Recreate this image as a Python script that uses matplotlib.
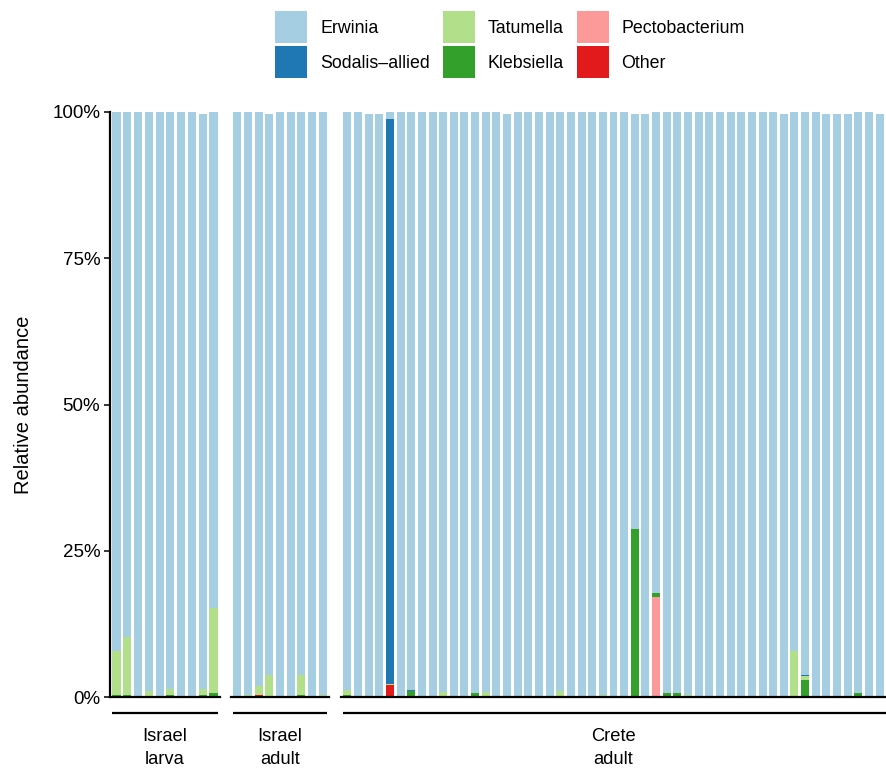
import numpy as np
import matplotlib
matplotlib.use("Agg")
import matplotlib.pyplot as plt
import matplotlib.patches as mpatches

plt.rcParams['font.family'] = ['Liberation Sans', 'DejaVu Sans']

# groups of samples (left to right)
groups = ["Israel\nlarva", "Israel\nadult", "Crete\nadult"]
group_sizes = [10, 9, 51]

taxa = ["Erwinia", "Sodalis–allied", "Tatumella", "Klebsiella", "Pectobacterium", "Other"]
colors = ["#A6CEE3", "#1F78B4", "#B2DF8A", "#33A02C", "#FB9A99", "#E31A1C"]

# relative abundance (%) per sample: Israel larva (10), Israel adult (9), Crete adult (51)
other = [0, 0, 0, 0, 0, 0, 0, 0, 0, 0,
         0, 0, 0.3, 0, 0, 0, 0, 0, 0,
         0, 0, 0, 0, 2.0, 0, 0, 0, 0, 0,
         0, 0, 0, 0, 0, 0, 0, 0, 0, 0,
         0, 0, 0, 0, 0, 0, 0, 0, 0.2, 0.2,
         0, 0, 0, 0, 0, 0, 0, 0, 0, 0,
         0, 0, 0, 0.2, 0, 0, 0, 0, 0.2, 0, 0]
pecto = [0, 0, 0, 0, 0, 0, 0, 0, 0, 0,
         0, 0, 0, 0, 0, 0, 0, 0, 0,
         0, 0, 0, 0, 0, 0, 0, 0, 0, 0,
         0, 0, 0, 0, 0, 0, 0, 0, 0, 0,
         0, 0, 0, 0, 0, 0, 0, 0, 0, 16.9,
         0, 0, 0, 0, 0, 0, 0, 0, 0, 0,
         0, 0, 0, 0, 0, 0, 0, 0, 0, 0, 0]
klebs = [0.3, 0.3, 0.2, 0, 0, 0.3, 0, 0, 0.3, 0.6,
         0, 0, 0, 0.2, 0, 0, 0.3, 0, 0,
         0.3, 0, 0.2, 0.2, 0, 0.2, 1.0, 0, 0, 0.2,
         0.2, 0, 0.7, 0.2, 0.2, 0.2, 0, 0, 0, 0,
         0, 0, 0.2, 0.2, 0, 0, 0, 28.8, 0, 0.6,
         0.7, 0.7, 0, 0.2, 0, 0.2, 0, 0, 0, 0.2,
         0.2, 0.2, 0.2, 2.7, 0.2, 0.2, 0.2, 0.2, 0.5, 0, 0.2]
tatum = [7.6, 10.0, 0, 1.0, 0, 1.0, 0, 0, 1.1, 14.6,
         0, 0.3, 1.6, 3.6, 0, 0, 3.5, 0, 0.4,
         0.9, 0, 0, 0, 0.2, 0, 0, 0, 0, 0.6,
         0, 0, 0, 0.6, 0, 0, 0, 0, 0, 0,
         1.0, 0, 0, 0, 0.4, 0, 0, 0, 0, 0,
         0, 0, 0.4, 0, 0, 0, 0, 0, 0, 0,
         0, 0, 7.6, 0.7, 0, 0, 0, 0, 0, 0, 0]
sodal = [0, 0, 0, 0, 0, 0, 0, 0, 0, 0,
         0, 0, 0, 0, 0, 0, 0, 0, 0,
         0, 0, 0, 0, 96.6, 0, 0.2, 0, 0, 0,
         0, 0, 0, 0, 0, 0, 0, 0, 0, 0,
         0, 0, 0, 0, 0, 0, 0, 0, 0, 0,
         0, 0, 0, 0, 0, 0, 0, 0, 0, 0,
         0, 0, 0, 0.2, 0, 0, 0, 0, 0, 0, 0]
erwin = [92.1, 89.7, 99.8, 99.0, 100, 98.7, 100, 100, 98.2, 84.8,
         100, 99.7, 98.1, 95.8, 100, 100, 96.2, 100, 99.6,
         98.8, 100, 99.4, 99.4, 1.2, 99.8, 98.8, 100, 100, 99.2,
         99.8, 100, 99.3, 99.2, 99.8, 99.4, 100, 100, 100, 100,
         99.0, 100, 99.8, 99.8, 99.6, 100, 100, 70.8, 99.4, 82.3,
         99.3, 99.3, 99.6, 99.8, 100, 99.8, 100, 100, 100, 99.8,
         99.8, 99.4, 92.2, 96.2, 99.8, 99.4, 99.4, 99.4, 99.3, 100, 99.4]

# stacking order from bottom to top
stack = [(other, colors[5]), (pecto, colors[4]), (klebs, colors[3]),
         (tatum, colors[2]), (sodal, colors[1]), (erwin, colors[0])]

W, H = 886, 771
fig = plt.figure(figsize=(W / 100, H / 100), dpi=100)

# panel extents in pixels (left, right)
panel_px = [(110, 220), (231, 329), (341, 886)]
top_px, bot_px = 112, 697

start = 0
for gi, (name, n) in enumerate(zip(groups, group_sizes)):
    l, r = panel_px[gi]
    ax = fig.add_axes([l / W, (H - bot_px) / H, (r - l) / W, (bot_px - top_px) / H])
    x = np.arange(n)
    bottom = np.zeros(n)
    for vals, c in stack:
        v = np.array(vals[start:start + n], dtype=float)
        ax.bar(x, v, bottom=bottom, width=0.75, color=c, linewidth=0)
        bottom += v
    start += n

    ax.set_xlim(-0.6, n - 1 + 0.6)
    ax.set_ylim(0, 100)
    ax.set_xticks([])
    for s in ["top", "right"]:
        ax.spines[s].set_visible(False)
    ax.spines["bottom"].set_linewidth(1.6)
    ax.spines["bottom"].set_color("black")
    if gi == 0:
        ax.spines["left"].set_linewidth(1.6)
        ax.spines["left"].set_color("black")
        ax.set_yticks([0, 25, 50, 75, 100])
        ax.set_yticklabels(["0%", "25%", "50%", "75%", "100%"])
        ax.tick_params(axis="y", labelsize=13.5, length=4, width=1.1, pad=3)
        ax.set_ylabel("Relative abundance", fontsize=14.5, labelpad=14)
    else:
        ax.spines["left"].set_visible(False)
        ax.set_yticks([])

    # group bracket line and label under each panel
    trans = ax.get_xaxis_transform()
    ly = -(713 - bot_px) / (bot_px - top_px)
    x_end = n - 1 + 0.4 if gi < 2 else n - 1 + 0.6
    ax.plot([-0.4, x_end], [ly, ly], color="black", lw=1.6,
            transform=trans, clip_on=False, solid_capstyle="butt")
    ax.text((n - 1) / 2, -(748 - bot_px) / (bot_px - top_px), name,
            transform=trans, ha="center", va="center", fontsize=13.2,
            linespacing=1.4)

handles = [mpatches.Patch(facecolor=c, edgecolor="none", label=t)
           for t, c in zip(taxa, colors)]
fig.legend(handles=handles, ncol=3, loc="upper center",
           bbox_to_anchor=(510 / W, 1 - 11 / H), frameon=False,
           fontsize=12.8, handlelength=1.8, handleheight=2.4,
           labelspacing=0.17, handletextpad=0.72, columnspacing=0.72,
           borderpad=0, borderaxespad=0)

fig.savefig("out.png", dpi=100)
